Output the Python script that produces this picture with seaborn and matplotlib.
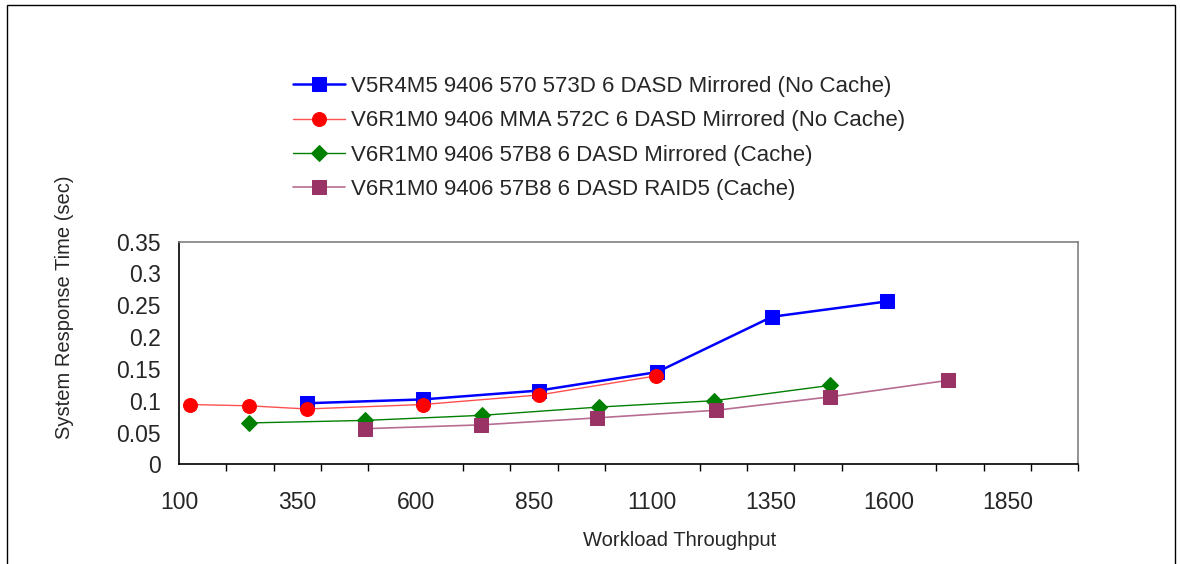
import pandas as pd
import matplotlib.pyplot as plt
import matplotlib.patches as mpatches
from matplotlib.ticker import MultipleLocator, FixedLocator
import seaborn as sns


# data
labels = [
    "V5R4M5 9406 570 573D 6 DASD Mirrored (No Cache)",
    "V6R1M0 9406 MMA 572C 6 DASD Mirrored (No Cache)",
    "V6R1M0 9406 57B8 6 DASD Mirrored (Cache)",
    "V6R1M0 9406 57B8 6 DASD RAID5 (Cache)",
]
blue_x = [370, 615, 861, 1110, 1353, 1595]
blue_y = [0.096, 0.102, 0.116, 0.145, 0.232, 0.256]
red_x = [123, 247, 370, 615, 861, 1108]
red_y = [0.094, 0.092, 0.087, 0.094, 0.109, 0.139]
green_x = [247, 493, 740, 987, 1230, 1475]
green_y = [0.065, 0.069, 0.077, 0.090, 0.100, 0.124]
purple_x = [493, 738, 983, 1235, 1475, 1725]
purple_y = [0.056, 0.062, 0.073, 0.085, 0.106, 0.132]
x_ticks = [100, 350, 600, 850, 1100, 1350, 1600, 1850]
y_ticks = [0, 0.05, 0.1, 0.15, 0.2, 0.25, 0.3, 0.35]

sns.set_style("white")
plt.rcParams['font.family'] = ['Liberation Sans', 'DejaVu Sans']

fig = plt.figure(figsize=(11.8, 5.64), dpi=100)
ax = fig.add_axes([179 / 1180, 1 - 464.3 / 564, 899.3 / 1180, 222.6 / 564])

series = [
    (blue_x, blue_y, "#0000FF", "#0000FF", "s", 9.5, 1.8),
    (red_x, red_y, "#FF0000", "#FF5050", "o", 10, 1.0),
    (green_x, green_y, "#008000", "#008000", "D", 8, 1.0),
    (purple_x, purple_y, "#993366", "#B86C92", "s", 9.5, 1.2),
]
for (xs, ys, mc, lc, mk, ms, lw), lab in zip(series, labels):
    df = pd.DataFrame({"x": xs, "y": ys})
    sns.lineplot(data=df, x="x", y="y", ax=ax, color=lc, linewidth=lw,
                 marker=mk, markersize=ms, markerfacecolor=mc,
                 markeredgecolor=mc, label=lab)

ax.set_xlim(100, 2000)
ax.set_ylim(0, 0.35)
ax.xaxis.set_major_locator(FixedLocator(x_ticks))
ax.xaxis.set_minor_locator(MultipleLocator(100))
ax.set_xticks(x_ticks)
ax.set_xticklabels([str(t) for t in x_ticks])
ax.set_yticks(y_ticks)
ax.set_yticklabels(["0", "0.05", "0.1", "0.15", "0.2", "0.25", "0.3", "0.35"])
ax.tick_params(axis='both', which='major', direction='out', length=6,
               width=1, color='black', labelsize=16.5, pad=7)
ax.tick_params(axis='x', which='minor', direction='out', length=5,
               width=1, color='black', bottom=True)
ax.tick_params(axis='x', which='major', pad=13)
ax.set_xlabel("")
ax.set_ylabel("")

for side in ['top', 'right']:
    ax.spines[side].set_color('#808080')
    ax.spines[side].set_linewidth(1.2)
for side in ['left', 'bottom']:
    ax.spines[side].set_color('black')
    ax.spines[side].set_linewidth(1.2)

ax.legend(loc='upper left', bbox_to_anchor=(293 / 1180, 1 - 76 / 564),
          bbox_transform=fig.transFigure, frameon=False, fontsize=16,
          handlelength=2.35, handletextpad=0.25, labelspacing=0.6,
          borderpad=0, borderaxespad=0)

fig.text(680 / 1180, 1 - 540 / 564, "Workload Throughput", fontsize=14.5,
         ha='center', va='center')
fig.text(65 / 1180, 1 - 307 / 564, "System Response Time (sec)", fontsize=14.5,
         ha='center', va='center', rotation=90)

# outer frame around the chart
fig.patches.append(mpatches.Rectangle((7 / 1180, -0.05), 1168 / 1180,
                                      1.05 - 5 / 564, transform=fig.transFigure,
                                      fill=False, edgecolor='black', linewidth=1))

fig.savefig("out.png", dpi=100)
